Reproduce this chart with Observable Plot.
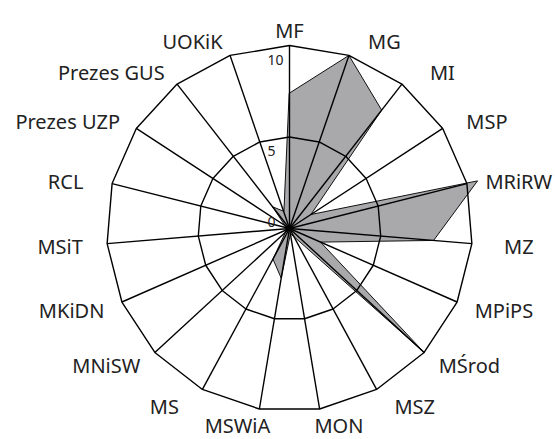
<!DOCTYPE html>
<html><head><meta charset="utf-8">
<script src="https://cdn.jsdelivr.net/npm/d3@7"></script>
<script src="https://cdn.jsdelivr.net/npm/@observablehq/plot@0.6"></script>
<style>body{margin:0;background:#fff} #chart svg{display:block}</style>
</head><body><div id="chart"></div>
<script>
const categories = ["MF","MG","MI","MSP","MRiRW","MZ","MPiPS","MŚrod","MSZ","MON","MSWiA","MS","MNiSW","MKiDN","MSiT","RCL","Prezes UZP","Prezes GUS","UOKiK"];
const values = [7.4, 10, 8.2, 1.4, 10.6, 7.9, 1.85, 10, 0.5, 0.3, 2.75, 1.9, 0.3, 0.2, 0.2, 0.2, 0.3, 1.5, 1.0];
const ticks = [0, 5, 10];
const rings = [5, 10];

const W = 555, H = 439, CX = 289, CY = 228, PX = 18.3;
const n = categories.length;
const ang = i => i * 2 * Math.PI / n;
const pt = (i, r) => ({x: r * Math.sin(ang(i)), y: r * Math.cos(ang(i))});

const dataPts = values.map((v, i) => ({...pt(i, v), cat: categories[i], v}));
const ringPts = rings.flatMap(r => categories.map((c, i) => ({...pt(i, r), ring: r})));
const spokes = categories.map((c, i) => ({x1: 0, y1: 0, x2: pt(i, 10).x, y2: pt(i, 10).y}));

const FONT = "'Noto Sans', sans-serif";
const FS = 20;
const ctx = document.createElement("canvas").getContext("2d");
ctx.font = `${FS}px ${FONT}`;
const LR = 200 / PX;
const labels = categories.map((c, i) => {
  const s = Math.sin(ang(i)), co = Math.cos(ang(i));
  const w = ctx.measureText(c).width;
  const off = Math.sign(s) * Math.min(1, Math.abs(s) / 0.3) * Math.max(w / 2 + 2, 30);
  const dy = co < -0.95 ? 1 : 3;
  return {label: c, x: LR * s + off / PX, y: LR * co - dy / PX};
});

const chart = Plot.plot({
  width: W, height: H,
  margin: 0,
  x: {domain: [-CX / PX, (W - CX) / PX], axis: null},
  y: {domain: [-(H - CY) / PX, CY / PX], axis: null},
  style: {fontFamily: FONT, background: "#fff"},
  marks: [
    Plot.line(dataPts, {x: "x", y: "y", curve: "linear-closed", fill: "#a9a9ac", stroke: "#111", strokeWidth: 1}),
    Plot.line(ringPts, {x: "x", y: "y", z: "ring", curve: "linear-closed", stroke: "#000", strokeWidth: 1.4, fill: "none"}),
    Plot.link(spokes, {x1: "x1", y1: "y1", x2: "x2", y2: "y2", stroke: "#000", strokeWidth: 1.4}),
    Plot.text(ticks, {x: -22 / PX, y: d => d === 0 ? d + 6 / PX : d - 15 / PX, text: d => String(d), textAnchor: "start", fontSize: 14, fill: "#222"}),
    Plot.text(labels, {x: "x", y: "y", text: "label", textAnchor: "middle", fontSize: FS, fill: "#222"})
  ]
});
document.getElementById("chart").append(chart);
</script>
</body></html>
